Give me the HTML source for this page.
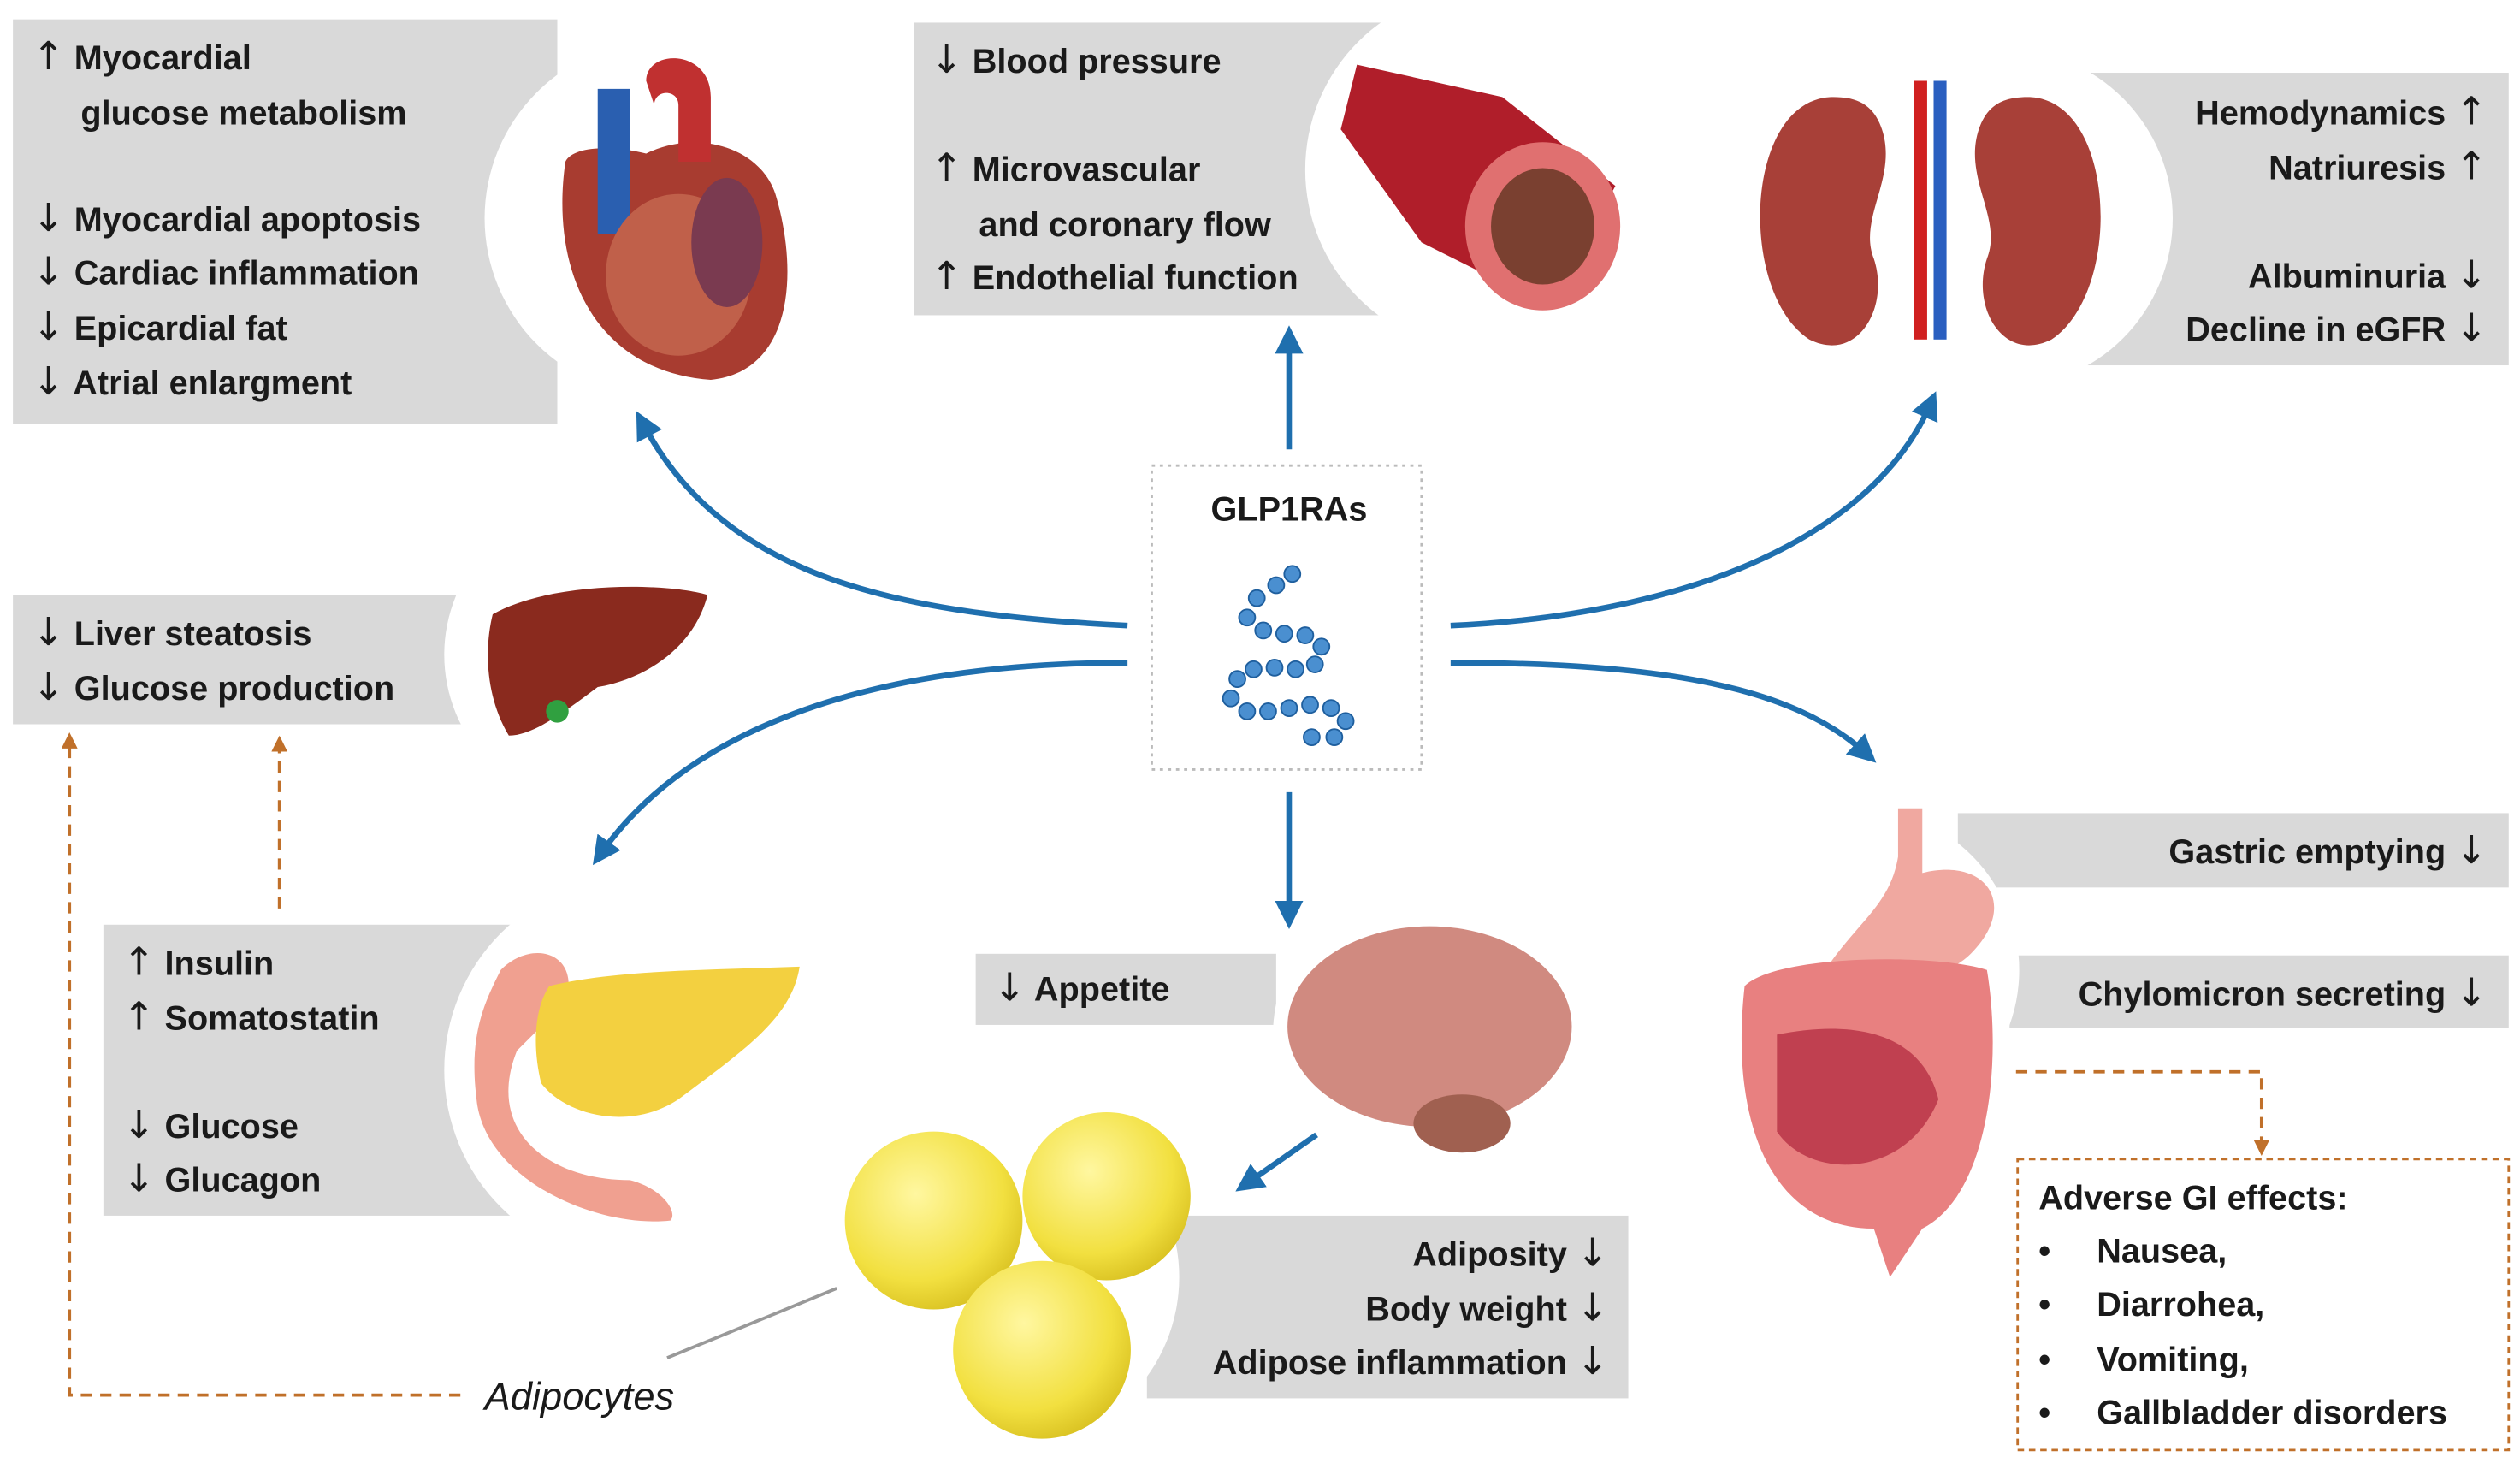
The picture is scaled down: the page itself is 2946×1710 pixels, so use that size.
<!DOCTYPE html>
<html><head><meta charset="utf-8"><style>
html,body{margin:0;padding:0;background:#fff;}
svg{display:block;}
text{font-family:"Liberation Sans",sans-serif;font-weight:bold;fill:#1a1a1a;font-size:21px;}
.a{font-family:"DejaVu Sans",sans-serif;font-size:24px;font-weight:normal;}
</style></head><body>
<svg width="2946" height="1710" viewBox="0 0 1560 905" preserveAspectRatio="none" xmlns="http://www.w3.org/2000/svg">
<defs>
<marker id="ab" viewBox="0 0 10 10" refX="5" refY="5" markerWidth="5" markerHeight="5" orient="auto"><path d="M0,0L10,5L0,10z" fill="#1f6fae"/></marker>
<marker id="ao" viewBox="0 0 10 10" refX="5" refY="5" markerWidth="5" markerHeight="5" orient="auto"><path d="M0,0L10,5L0,10z" fill="#c0702a"/></marker>
<radialGradient id="fat" cx="0.4" cy="0.35" r="0.7"><stop offset="0" stop-color="#fff7a0"/><stop offset="0.7" stop-color="#f2e040"/><stop offset="1" stop-color="#d8c020"/></radialGradient>
</defs>
<rect x="8" y="12" width="337" height="250" fill="#d9d9d9"/>
<rect x="566" y="14" width="296" height="181" fill="#d9d9d9"/>
<rect x="1280" y="45" width="273" height="181" fill="#d9d9d9"/>
<rect x="8" y="368" width="292" height="80" fill="#d9d9d9"/>
<rect x="64" y="572" width="256" height="180" fill="#d9d9d9"/>
<rect x="604" y="590" width="186" height="44" fill="#d9d9d9"/>
<rect x="710" y="752" width="298" height="113" fill="#d9d9d9"/>
<rect x="1212" y="503" width="341" height="46" fill="#d9d9d9"/>
<rect x="1244" y="591" width="309" height="45" fill="#d9d9d9"/>
<circle cx="410" cy="135" r="110" fill="#fff"/>
<circle cx="920" cy="105" r="112" fill="#fff"/>
<circle cx="1240" cy="135" r="105" fill="#fff"/>
<circle cx="370" cy="405" r="95" fill="#fff"/>
<circle cx="395" cy="662" r="120" fill="#fff"/>
<circle cx="880" cy="640" r="92" fill="#fff"/>
<circle cx="625" cy="790" r="105" fill="#fff"/>
<circle cx="1150" cy="600" r="100" fill="#fff"/>
<path d="M350,100 C340,170 370,230 440,235 C490,230 495,170 480,120 C470,90 430,80 400,95 C380,90 355,90 350,100z" fill="#a83c30"/>
<path d="M370,55 h20 v90 h-20z" fill="#2a5fb0"/>
<path d="M400,50 C400,30 440,30 440,60 v40 h-20 v-35 c0,-10 -15,-10 -15,0 z" fill="#c03030"/>
<ellipse cx="420" cy="170" rx="45" ry="50" fill="#c0604a"/>
<ellipse cx="450" cy="150" rx="22" ry="40" fill="#7a3a50"/>
<path d="M840,40 L930,60 L1000,115 L960,190 L880,150 L830,80z" fill="#b01e2a"/>
<ellipse cx="955" cy="140" rx="48" ry="52" fill="#e07070"/>
<ellipse cx="955" cy="140" rx="32" ry="36" fill="#7a4030"/>
<path d="M1135,60 C1080,60 1075,180 1120,210 C1150,225 1170,190 1160,160 C1150,135 1175,110 1165,80 C1160,65 1150,60 1135,60z" fill="#a84038"/>
<path d="M1255,60 C1310,60 1315,180 1270,210 C1240,225 1220,190 1230,160 C1240,135 1215,110 1225,80 C1230,65 1240,60 1255,60z" fill="#a84038"/>
<rect x="1185" y="50" width="8" height="160" fill="#d02020"/>
<rect x="1197" y="50" width="8" height="160" fill="#2a5fc0"/>
<path d="M305,380 C340,360 410,360 438,368 C430,400 400,420 370,425 C350,440 330,455 315,455 C300,430 300,400 305,380z" fill="#8a2a1e"/>
<circle cx="345" cy="440" r="7" fill="#30a040"/>
<path d="M310,600 C330,580 360,590 350,620 L320,650 C300,700 340,730 390,730 C410,735 420,750 415,755 C370,760 300,730 295,680 C290,640 300,620 310,600z" fill="#f0a090"/>
<path d="M340,610 C380,600 440,600 495,598 C490,630 460,650 420,680 C390,700 350,690 335,670 C330,650 330,625 340,610z" fill="#f3d040"/>
<ellipse cx="885" cy="635" rx="88" ry="62" fill="#d08a80"/>
<ellipse cx="905" cy="695" rx="30" ry="18" fill="#a06050"/>
<circle cx="578" cy="755" r="55" fill="url(#fat)"/>
<circle cx="685" cy="740" r="52" fill="url(#fat)"/>
<circle cx="645" cy="835" r="55" fill="url(#fat)"/>
<line x1="413" y1="840" x2="518" y2="797" stroke="#999" stroke-width="2"/>
<path d="M1175,500 h15 v40 C1230,530 1250,560 1220,590 C1200,610 1150,615 1130,600 C1150,570 1170,560 1175,530z" fill="#f0a8a0"/>
<path d="M1080,610 C1100,590 1200,590 1230,600 C1240,660 1230,740 1190,760 L1170,790 L1160,760 C1100,760 1070,700 1080,610z" fill="#e88080"/>
<path d="M1100,640 C1150,630 1190,640 1200,680 C1180,730 1120,730 1100,700z" fill="#c04050"/>
<rect x="1249" y="717" width="304" height="180" fill="#fff" stroke="#c0702a" stroke-width="1.5" stroke-dasharray="4,3"/>
<rect x="713" y="288" width="167" height="188" fill="#fff" stroke="#bbb" stroke-width="1.5" stroke-dasharray="2,3"/>
<text x="798" y="322" text-anchor="middle" font-size="24">GLP1RAs</text>
<g fill="#4a8fd0" stroke="#1f5f9e" stroke-width="1">
<circle cx="800" cy="355" r="5"/><circle cx="790" cy="362" r="5"/><circle cx="778" cy="370" r="5"/><circle cx="772" cy="382" r="5"/><circle cx="782" cy="390" r="5"/><circle cx="795" cy="392" r="5"/><circle cx="808" cy="393" r="5"/><circle cx="818" cy="400" r="5"/><circle cx="814" cy="411" r="5"/><circle cx="802" cy="414" r="5"/><circle cx="789" cy="413" r="5"/><circle cx="776" cy="414" r="5"/><circle cx="766" cy="420" r="5"/><circle cx="762" cy="432" r="5"/><circle cx="772" cy="440" r="5"/><circle cx="785" cy="440" r="5"/><circle cx="798" cy="438" r="5"/><circle cx="811" cy="436" r="5"/><circle cx="824" cy="438" r="5"/><circle cx="833" cy="446" r="5"/><circle cx="826" cy="456" r="5"/><circle cx="812" cy="456" r="5"/>
</g>
<g stroke="#1f6fae" stroke-width="3.5" fill="none">
<path d="M698,387 C560,380 450,360 398,262" marker-end="url(#ab)"/>
<path d="M798,278 V210" marker-end="url(#ab)"/>
<path d="M898,387 C1050,380 1160,330 1195,250" marker-end="url(#ab)"/>
<path d="M698,410 C520,410 420,460 372,528" marker-end="url(#ab)"/>
<path d="M798,490 V566" marker-end="url(#ab)"/>
<path d="M898,410 C1030,410 1110,425 1155,466" marker-end="url(#ab)"/>
<path d="M815,702 L772,732" marker-end="url(#ab)"/>
</g>
<g stroke="#c0702a" stroke-width="2" fill="none" stroke-dasharray="7,5">
<path d="M285,863 H43 V458" marker-end="url(#ao)"/>
<path d="M173,562 V460" marker-end="url(#ao)"/>
<path d="M1248,663 H1400 V710" marker-end="url(#ao)"/>
</g>
<text x="20" y="43"><tspan class="a">↑</tspan> Myocardial</text>
<text x="50" y="77">glucose metabolism</text>
<text x="20" y="143"><tspan class="a">↓</tspan> Myocardial apoptosis</text>
<text x="20" y="176"><tspan class="a">↓</tspan> Cardiac inflammation</text>
<text x="20" y="210"><tspan class="a">↓</tspan> Epicardial  fat</text>
<text x="20" y="244"><tspan class="a">↓</tspan> Atrial enlargment</text>
<text x="576" y="45"><tspan class="a">↓</tspan> Blood pressure</text>
<text x="576" y="112"><tspan class="a">↑</tspan> Microvascular</text>
<text x="606" y="146">and coronary  flow</text>
<text x="576" y="179"><tspan class="a">↑</tspan> Endothelial  function</text>
<text x="1540" y="77" text-anchor="end">Hemodynamics <tspan class="a">↑</tspan></text>
<text x="1540" y="111" text-anchor="end">Natriuresis <tspan class="a">↑</tspan></text>
<text x="1540" y="178" text-anchor="end">Albuminuria <tspan class="a">↓</tspan></text>
<text x="1540" y="211" text-anchor="end">Decline in eGFR <tspan class="a">↓</tspan></text>
<text x="20" y="399"><tspan class="a">↓</tspan> Liver steatosis</text>
<text x="20" y="433"><tspan class="a">↓</tspan> Glucose production</text>
<text x="76" y="603"><tspan class="a">↑</tspan> Insulin</text>
<text x="76" y="637"><tspan class="a">↑</tspan> Somatostatin</text>
<text x="76" y="704"><tspan class="a">↓</tspan> Glucose</text>
<text x="76" y="737"><tspan class="a">↓</tspan> Glucagon</text>
<text x="615" y="619"><tspan class="a">↓</tspan> Appetite</text>
<text x="996" y="783" text-anchor="end">Adiposity <tspan class="a">↓</tspan></text>
<text x="996" y="817" text-anchor="end">Body weight <tspan class="a">↓</tspan></text>
<text x="996" y="850" text-anchor="end">Adipose inflammation <tspan class="a">↓</tspan></text>
<text x="1540" y="534" text-anchor="end">Gastric emptying <tspan class="a">↓</tspan></text>
<text x="1540" y="622" text-anchor="end">Chylomicron secreting <tspan class="a">↓</tspan></text>
<text x="1262" y="748">Adverse GI effects:</text>
<text x="1262" y="781">•</text><text x="1298" y="781">Nausea,</text>
<text x="1262" y="814">•</text><text x="1298" y="814">Diarrohea,</text>
<text x="1262" y="848">•</text><text x="1298" y="848">Vomiting,</text>
<text x="1262" y="881">•</text><text x="1298" y="881">Gallbladder disorders</text>
<text x="300" y="872" style="font-weight:normal;font-style:italic;font-size:24px">Adipocytes</text>
</svg>
</body></html>
